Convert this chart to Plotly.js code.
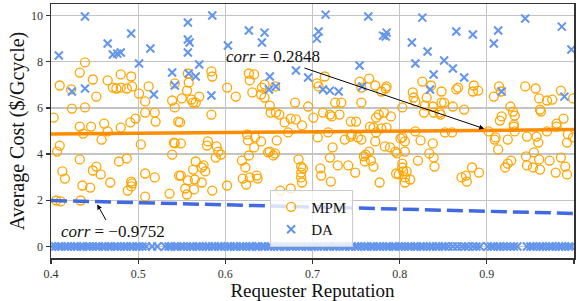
<!DOCTYPE html>
<html>
<head>
<meta charset="utf-8">
<script src="https://cdn.plot.ly/plotly-3.0.1.min.js"></script>
<style>html,body{margin:0;padding:0;background:#fff;}#chart{width:579px;height:301px;}</style>
</head>
<body>
<div id="chart"></div>
<script>
// ---- data ----
const xTicks = [0.4, 0.5, 0.6, 0.7, 0.8, 0.9, 1.0];
const xTickLabels = ['0.4', '0.5', '0.6', '0.7', '0.8', '0.9', '1.0'];
const yTicks = [0, 2, 4, 6, 8, 10];
const yTickLabels = ['0', '2', '4', '6', '8', '10'];

// MPM points [reputation, cost]
const mpmPoints = [
[0.439,7.97],[0.433,7.53],[0.410,6.97],[0.423,6.80],[0.448,7.23],[0.452,6.49],[0.465,7.19],[0.471,6.88],[0.475,6.84],[0.480,6.88],
[0.487,6.84],[0.493,6.93],[0.480,7.45],[0.492,7.36],[0.501,6.62],[0.508,6.28],[0.512,6.93],[0.508,5.80],[0.519,5.80],[0.520,5.41],
[0.539,6.32],[0.542,6.02],[0.542,7.06],[0.424,5.97],[0.439,6.02],[0.403,5.58],[0.433,5.19],[0.446,5.19],[0.461,5.32],[0.480,5.15],
[0.491,5.37],[0.497,5.54],[0.546,5.41],[0.437,4.89],[0.458,4.63],[0.465,4.98],
[0.410,4.37],[0.407,4.11],[0.433,3.77],[0.413,3.25],[0.416,2.94],[0.436,2.64],[0.445,2.55],[0.448,3.29],[0.452,3.46],[0.457,3.12],
[0.468,2.77],[0.478,3.68],[0.487,3.81],[0.492,2.81],[0.493,2.73],[0.492,2.60],[0.488,2.42],[0.503,4.42],[0.508,3.16],[0.519,2.99],
[0.508,2.16],[0.536,2.29],[0.541,4.50],[0.539,3.98],[0.547,3.07],[0.406,1.99],[0.411,1.95],[0.434,1.99],
[0.584,7.58],[0.585,7.36],[0.557,7.49],[0.558,7.10],[0.556,6.75],[0.550,6.41],[0.561,6.36],[0.563,6.23],[0.566,6.23],[0.570,6.49],
[0.548,5.37],[0.584,5.71],[0.602,6.88],[0.612,6.49],[0.627,7.49],[0.633,7.45],[0.628,7.19],[0.631,6.67],[0.642,6.88],[0.641,6.58],
[0.645,6.45],[0.645,7.01],[0.651,6.10],[0.652,5.80],[0.658,5.80],[0.662,5.71],[0.657,6.93],[0.668,5.37],[0.675,5.54],[0.681,5.50],
[0.688,5.24],[0.680,6.23],
[0.549,4.46],[0.580,4.55],[0.579,4.37],[0.590,4.33],[0.592,4.11],[0.589,3.85],[0.595,3.98],[0.573,3.42],[0.575,3.51],[0.577,3.25],
[0.549,3.07],[0.557,2.86],[0.565,2.90],[0.573,2.77],[0.554,2.51],[0.556,2.25],[0.564,2.47],[0.585,2.42],[0.602,2.64],[0.625,4.85],
[0.626,4.59],[0.634,4.72],[0.641,4.55],[0.627,3.94],[0.619,3.72],[0.623,3.42],[0.620,2.94],[0.624,2.68],[0.628,2.99],[0.636,3.07],
[0.637,2.94],[0.633,4.29],[0.651,4.11],[0.655,3.94],[0.657,4.03],[0.659,4.59],[0.672,4.94],[0.684,3.77],[0.687,3.46],[0.689,3.38],
[0.687,3.20],[0.687,2.99],[0.688,2.77],[0.663,2.42],[0.675,2.51],[0.563,3.33],[0.566,3.68],[0.542,4.46],[0.649,4.07],
[0.714,7.36],[0.705,7.06],[0.707,6.93],[0.695,6.06],[0.701,5.58],[0.712,5.80],[0.720,5.71],[0.722,5.63],[0.731,5.71],[0.726,6.23],
[0.733,6.23],[0.754,7.14],[0.765,7.27],[0.756,6.88],[0.772,6.97],[0.779,6.71],[0.784,6.84],[0.785,6.93],[0.756,6.23],[0.744,5.41],
[0.750,5.41],[0.766,5.19],[0.773,5.58],[0.776,5.71],[0.782,5.80],[0.790,5.63],[0.785,5.15],[0.803,6.02],[0.815,6.67],[0.816,6.45],
[0.818,6.28],[0.826,7.14],[0.836,6.97],[0.831,6.45],[0.829,6.10],[0.838,6.06],[0.839,5.80],[0.848,6.23],[0.828,5.80],[0.847,5.71],
[0.706,4.72],[0.718,4.94],[0.737,4.63],[0.744,4.76],[0.752,4.72],[0.756,4.63],[0.773,4.94],[0.779,5.11],[0.772,4.55],[0.723,4.29],
[0.720,3.85],[0.709,3.38],[0.710,3.07],[0.729,3.51],[0.741,3.51],[0.749,3.20],[0.721,2.81],[0.759,3.90],[0.761,3.98],[0.765,4.11],
[0.760,3.68],[0.767,3.72],[0.770,3.46],[0.777,2.77],[0.783,4.33],[0.789,4.29],[0.795,4.11],[0.797,4.03],[0.806,4.11],[0.801,4.68],
[0.806,4.55],[0.818,4.98],[0.824,4.59],[0.838,4.46],[0.821,3.72],[0.834,4.03],[0.839,3.85],[0.840,3.46],[0.803,3.59],[0.803,3.42],
[0.796,3.16],[0.799,3.12],[0.804,3.25],[0.808,3.25],[0.806,2.99],[0.812,2.90],[0.806,2.77],[0.803,4.72],[0.745,4.85],[0.770,5.15],
[0.848,6.71],[0.865,6.80],[0.867,6.88],[0.885,6.97],[0.884,6.71],[0.890,6.75],[0.851,6.23],[0.846,5.80],[0.861,6.06],[0.874,5.93],
[0.908,6.49],[0.914,6.93],[0.916,6.71],[0.944,6.93],[0.956,6.84],[0.960,6.41],[0.969,6.32],[0.975,6.36],[0.985,6.75],[0.999,6.41],
[0.927,6.06],[0.930,5.84],[0.932,5.67],[0.961,5.93],[0.962,5.84],[0.917,5.63],[0.915,5.45],[0.988,5.54],[0.980,5.32],[0.931,5.28],
[0.852,4.94],[0.860,4.94],[0.902,4.98],[0.910,4.72],[0.913,4.20],[0.909,4.63],[0.924,4.63],[0.931,5.19],[0.932,4.98],[0.946,4.76],
[0.957,4.76],[0.959,4.50],[0.969,4.98],[0.980,5.19],[0.993,4.85],[0.992,4.50],[0.999,4.72],[0.945,3.90],[0.960,3.77],[0.954,4.07],
[0.972,3.72],[0.985,3.85],[0.928,3.72],[0.924,3.59],[0.921,3.42],[0.946,3.51],[0.953,3.42],[0.961,3.33],[0.990,3.46],[0.979,3.20],
[0.992,3.12],[0.883,3.42],[0.876,3.07],[0.871,2.99],[0.877,2.81],[0.891,3.20]
];

// DA points with non-zero cost [reputation, cost]
const daPoints = [
[0.409,8.27],[0.439,9.96],[0.439,6.84],[0.424,6.71],[0.465,8.79],[0.471,8.31],[0.476,8.35],[0.480,8.40],[0.492,9.22],[0.501,7.92],
[0.514,8.57],[0.518,6.58],[0.539,7.53],[0.542,6.97],[0.557,9.70],[0.557,8.96],[0.559,8.83],[0.557,8.40],[0.558,7.49],[0.566,7.36],
[0.570,7.88],[0.584,6.54],[0.585,10.0],[0.603,8.70],[0.627,9.35],[0.642,8.83],[0.645,9.26],[0.651,7.36],[0.650,6.80],[0.658,6.93],
[0.681,7.62],[0.695,7.32],[0.705,9.00],[0.707,9.31],[0.715,10.04],[0.712,6.80],[0.720,6.75],[0.730,6.71],[0.754,7.84],[0.757,6.93],
[0.764,9.96],[0.781,9.13],[0.785,9.26],[0.784,9.09],[0.814,8.83],[0.818,7.92],[0.826,9.91],[0.832,8.44],[0.835,6.80],[0.839,7.45],
[0.851,8.05],[0.861,7.71],[0.865,9.31],[0.874,7.32],[0.884,9.18],[0.908,8.79],[0.913,9.35],[0.917,6.71],[0.944,9.87],[0.986,9.52],
[0.997,8.53],[0.989,6.49]
];
// DA points whose cost is 0 (reputation values)
const daZeroX = [
0.401,0.405,0.409,0.412,0.416,0.419,0.423,0.427,0.430,0.434,0.437,0.441,0.444,0.448,0.452,0.455,0.459,0.462,0.466,0.469,
0.473,0.476,0.480,0.484,0.487,0.491,0.494,0.498,0.501,0.505,0.509,0.516,0.522,0.531,0.535,0.538,0.542,0.545,0.549,0.552,
0.556,0.560,0.563,0.567,0.570,0.574,0.578,0.581,0.585,0.588,0.592,0.595,0.599,0.603,0.606,0.610,0.613,0.617,0.620,0.624,
0.628,0.631,0.635,0.638,0.642,0.645,0.649,0.652,0.656,0.660,0.663,0.667,0.670,0.674,0.677,0.681,0.685,0.688,0.692,0.695,
0.699,0.702,0.706,0.710,0.713,0.717,0.720,0.724,0.727,0.731,0.735,0.738,0.742,0.745,0.749,0.752,0.756,0.760,0.763,0.767,
0.770,0.774,0.777,0.781,0.785,0.788,0.792,0.795,0.799,0.802,0.806,0.810,0.813,0.817,0.820,0.824,0.827,0.831,0.835,0.838,
0.842,0.845,0.849,0.852,0.856,0.861,0.866,0.871,0.875,0.879,0.884,0.888,0.892,0.901,0.905,0.908,0.912,0.915,0.919,0.923,
0.927,0.931,0.935,0.946,0.950,0.953,0.957,0.961,0.964,0.968,0.972,0.975,0.979,0.983,0.986,0.990,0.994,0.997
];
const daZeroCost = 0;

// fitted regression lines (endpoints at x = 0.4 and 1.0)
const fitX = [0.4, 1.0];
const mpmFitY = [4.87, 5.06];
const daFitY = [1.99, 1.43];

const mpmCorr = '0.2848';
const daCorr = '\u22120.9752';

// ---- build traces ----
const mpm = {
  x: mpmPoints.map(p => p[0]), y: mpmPoints.map(p => p[1]),
  type: 'scatter', mode: 'markers', name: 'MPM',
  marker: {symbol: 'circle-open', size: 9, color: '#FFA500', line: {width: 1.3, color: '#FFA500'}}
};
const da = {
  x: daPoints.map(p => p[0]).concat(daZeroX),
  y: daPoints.map(p => p[1]).concat(daZeroX.map(() => daZeroCost)),
  type: 'scatter', mode: 'markers', name: 'DA',
  marker: {symbol: 'x-thin-open', size: 8, color: '#6495ED', line: {width: 2, color: '#6495ED'}}
};
const mpmFit = {x: fitX, y: mpmFitY, type: 'scatter', mode: 'lines', showlegend: false,
  line: {color: '#FF8C00', width: 3.5}};
const daFit = {x: fitX, y: daFitY, type: 'scatter', mode: 'lines', showlegend: false,
  line: {color: '#4169E1', width: 3.5, dash: '16px,6px'}};

const serif = 'Liberation Serif, Times New Roman, serif';
const axisCommon = {
  showgrid: true, gridcolor: '#c4c4c4', gridwidth: 1.2, zeroline: false,
  showline: true, mirror: true, linecolor: '#333', linewidth: 1.5,
  ticks: 'outside', ticklen: 4, tickcolor: '#333', tickwidth: 1.2,
  tickfont: {size: 12, color: '#333', family: serif}
};

const layout = {
  width: 579, height: 301,
  margin: {l: 51, r: 5, t: 4, b: 43},
  paper_bgcolor: '#fff', plot_bgcolor: '#fff',
  font: {family: serif, color: '#111'},
  showlegend: true,
  legend: {x: 0.419, y: 0.045, xanchor: 'left', yanchor: 'bottom',
    bgcolor: 'rgba(255,255,255,0.8)', bordercolor: '#ccc', borderwidth: 1,
    font: {size: 15, family: serif, color: '#111'}},
  xaxis: Object.assign({}, axisCommon, {
    range: [0.4, 1.0], tickvals: xTicks, ticktext: xTickLabels, ticklabelstandoff: 0,
    title: {text: 'Requester Reputation', font: {size: 19, family: serif, color: '#111'}, standoff: 12}
  }),
  yaxis: Object.assign({}, axisCommon, {
    range: [-0.5, 10.5], tickvals: yTicks, ticktext: yTickLabels,
    title: {text: 'Average Cost ($/Gcycle)', font: {size: 20, family: serif, color: '#111'}, standoff: 1}
  }),
  annotations: [
    {x: 0.655, y: 8.22, xref: 'x', yref: 'y', text: '<i>corr</i> = ' + mpmCorr, showarrow: false,
     font: {size: 17, family: serif, color: '#111'}},
    {x: 0.897, y: 5.10, ax: 0.689, ay: 7.75, xref: 'x', yref: 'y', axref: 'x', ayref: 'y', text: '',
     showarrow: true, arrowhead: 2, arrowsize: 1, arrowwidth: 1, arrowcolor: '#000'},
    {x: 0.471, y: 0.65, xref: 'x', yref: 'y', text: '<i>corr</i> = ' + daCorr, showarrow: false,
     font: {size: 17, family: serif, color: '#111'}},
    {x: 0.453, y: 1.82, ax: 0.464, ay: 1.08, xref: 'x', yref: 'y', axref: 'x', ayref: 'y', text: '',
     showarrow: true, arrowhead: 2, arrowsize: 1, arrowwidth: 1, arrowcolor: '#000'}
  ]
};

Plotly.newPlot('chart', [mpm, da, mpmFit, daFit], layout, {staticPlot: true, displayModeBar: false});
</script>
</body>
</html>
